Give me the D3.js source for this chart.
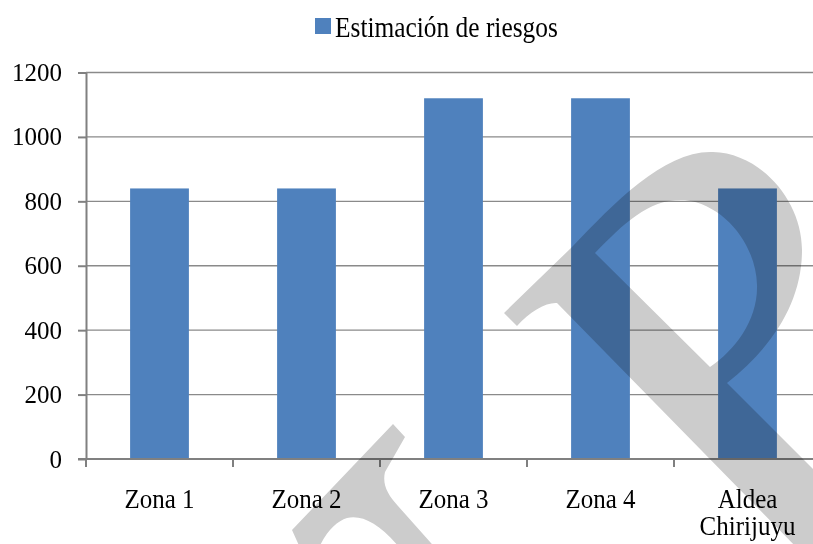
<!DOCTYPE html>
<html>
<head>
<meta charset="utf-8">
<script src="https://cdn.jsdelivr.net/npm/d3@7"></script>
<style>
	body { margin: 0; background: #fff; }
	svg { display: block; font-family: 'Liberation Serif', 'Times New Roman', serif; }
	.grid line { stroke: #8a8a8a; stroke-width: 1.3; }
	.axis path, .axis line { stroke: #808080; stroke-width: 2; }
	.axis text { fill: #000; font-size: 25px; font-family: 'Liberation Serif', 'Times New Roman', serif; }
	.watermark { mix-blend-mode: multiply; }
</style>
</head>
<body>
<svg id="chart" width="813" height="544"></svg>
<script>
'use strict';

/* global d3 */

var categories = ['Zona 1', 'Zona 2', 'Zona 3', 'Zona 4', 'Aldea Chirijuyu'];
var categoryLines = [['Zona 1'], ['Zona 2'], ['Zona 3'], ['Zona 4'], ['Aldea', 'Chirijuyu']];
var riesgos = [840, 840, 1120, 1120, 840];
var yTicks = [0, 200, 400, 600, 800, 1000, 1200];
var seriesName = 'Estimación de riesgos';

var margins = {
	left: 86,
	right: -8, // plot runs past the right edge, as in the original crop
	top: 72.5,
	bottom: 85
};

var svg = d3.select('#chart');
var width = +svg.attr('width');
var height = +svg.attr('height');

var x = d3.scaleBand().domain(categories).range([margins.left, width - margins.right]).paddingInner(0.6).paddingOuter(0.3);

var y = d3.scaleLinear().domain([0, 1200]).range([height - margins.bottom, margins.top]);

// horizontal gridlines
svg.append('g').attr('class', 'grid').selectAll('line').data(yTicks.slice(1)).enter().append('line').attr('x1', margins.left).attr('x2', width - margins.right).attr('y1', function (d) {
	return y(d);
}).attr('y2', function (d) {
	return y(d);
});

// bars
svg.append('g').selectAll('rect').data(riesgos).enter().append('rect').attr('x', function (d, i) {
	return x(categories[i]);
}).attr('y', function (d) {
	return y(d);
}).attr('width', x.bandwidth()).attr('height', function (d) {
	return y(0) - y(d);
}).attr('fill', '#4f81bd');

// y axis
var yAxis = d3.axisLeft(y).tickValues(yTicks).tickFormat(d3.format('d')).tickSize(8).tickPadding(16).tickSizeOuter(0);
svg.append('g').attr('class', 'axis').attr('transform', 'translate(' + margins.left + ',0)').call(yAxis);

// x axis line with ticks on the category boundaries
var xAxisGroup = svg.append('g').attr('class', 'axis');
xAxisGroup.append('path').attr('d', 'M' + (margins.left - 8) + ',' + y(0) + 'H' + (width - margins.right));

var boundaries = d3.range(categories.length + 1);
xAxisGroup.selectAll('line').data(boundaries).enter().append('line').attr('x1', function (d) {
	return x.range()[0] + d * x.step();
}).attr('x2', function (d) {
	return x.range()[0] + d * x.step();
}).attr('y1', y(0)).attr('y2', y(0) + 8);

// labels are a little taller than Liberation Serif, so stretch them
var catLabels = xAxisGroup.selectAll('text').data(categoryLines).enter().append('text').attr('text-anchor', 'middle').attr('transform', function (d, i) {
	return 'translate(' + (x(categories[i]) + x.bandwidth() / 2) + ',' + (y(0) + 49) + ') scale(1,1.08)';
});

catLabels.selectAll('tspan').data(function (d) {
	return d;
}).enter().append('tspan').attr('x', 0).attr('dy', function (d, i) {
	return i === 0 ? 0 : 25;
}).text(function (d) {
	return d;
});

// legend
var legend = svg.append('g').attr('transform', 'translate(315,18)');
legend.append('rect').attr('width', 16).attr('height', 16).attr('fill', '#4f81bd');
legend.append('text').attr('transform', 'translate(20,19) scale(1,1.15)').attr('font-size', '25.4px').text(seriesName);

// watermark drawn over the chart
var watermark = svg.append('g').attr('class', 'watermark');
watermark.append('path').attr('fill', '#cccccc').attr('fill-rule', 'evenodd').attr('d', 'M504,313 L572,247 C615,202 665,150 713,152 C760,153 802,200 802,250 C802,300 775,345 727,383 L900,556 L897,650 L557,303 C547,302 530,311 517,326 Z ' + 'M595,253 L710,367 C735,350 758,320 757,285 C756,245 725,205 685,200 C650,198 625,222 595,253 Z');
watermark.append('path').attr('fill', '#cccccc').attr('d', 'M393,424 L405,437 L385,472 C382,485 388,495 398,506 L447,561 L410,561 C385,527 365,514 347,518 C335,522 322,535 314,561 L306,561 L292,530 Z');
</script>
</body>
</html>
